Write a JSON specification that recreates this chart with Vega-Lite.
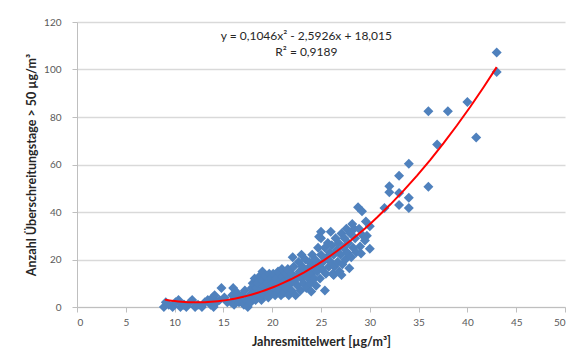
{
  "$schema": "https://vega.github.io/schema/vega-lite/v6.json",
  "width": 488,
  "height": 285,
  "autosize": {"type": "none"},
  "padding": {"left": 77, "top": 22, "right": 12, "bottom": 55},
  "background": "white",
  "config": {
    "view": {"stroke": null},
    "font": "Lato",
    "axis": {
      "labelFont": "Lato", "labelFontSize": 10, "labelColor": "#595959",
      "titleFont": "Lato", "titleFontSize": 12.5, "titleFontWeight": "bold", "titleColor": "#262626",
      "domainColor": "#BFBFBF", "tickColor": "#BFBFBF", "tickSize": 5,
      "gridColor": "#D9D9D9", "gridWidth": 1.5
    }
  },
  "datasets": {
    "pts": [
      {"x":8.9,"y":0},{"x":9.1,"y":2},{"x":9.4,"y":1},{"x":9.8,"y":0},{"x":10.1,"y":2},{"x":10.4,"y":3},{"x":10.6,"y":0},{"x":10.9,"y":1},{"x":11.2,"y":0},{"x":11.6,"y":2},{"x":11.8,"y":3},{"x":12.1,"y":0},{"x":12.4,"y":1},{"x":12.8,"y":0},{"x":13.1,"y":2},{"x":13.4,"y":3},{"x":13.7,"y":1},{"x":13.9,"y":4},{"x":14.1,"y":5},{"x":14.3,"y":2},{"x":14.6,"y":3},{"x":14.8,"y":8},{"x":15.1,"y":4},{"x":15.4,"y":2},{"x":14.0,"y":0},{"x":11.0,"y":1},
      {"x":15.8,"y":2},{"x":15.9,"y":5},{"x":16.0,"y":8},{"x":16.1,"y":1},{"x":16.3,"y":4},{"x":16.4,"y":6},{"x":16.6,"y":2},{"x":16.8,"y":3},{"x":16.9,"y":5},{"x":17.1,"y":1},{"x":17.2,"y":7},{"x":17.4,"y":3},{"x":17.5,"y":0},{"x":17.7,"y":5},{"x":17.8,"y":2},{"x":17.9,"y":8},{"x":18.0,"y":10},{"x":18.0,"y":4},
      {"x":18.1,"y":6},{"x":18.2,"y":12},{"x":18.3,"y":3},{"x":18.4,"y":8},{"x":18.5,"y":10},{"x":18.6,"y":5},{"x":18.7,"y":13},{"x":18.8,"y":7},{"x":18.9,"y":3},{"x":19.0,"y":11},{"x":19.0,"y":15},{"x":19.1,"y":9},{"x":19.2,"y":5},{"x":19.3,"y":13},{"x":19.4,"y":7},{"x":19.5,"y":10},{"x":19.6,"y":4},{"x":19.7,"y":14},{"x":19.8,"y":8},{"x":19.9,"y":12},{"x":20.0,"y":6},{"x":20.0,"y":10},
      {"x":20.1,"y":14},{"x":20.2,"y":8},{"x":20.3,"y":5},{"x":20.4,"y":12},{"x":20.5,"y":9},{"x":20.6,"y":15},{"x":20.7,"y":7},{"x":20.8,"y":11},{"x":20.9,"y":5},{"x":21.0,"y":13},{"x":21.0,"y":16},{"x":21.1,"y":9},{"x":21.2,"y":6},{"x":21.3,"y":11},{"x":21.4,"y":14},{"x":21.5,"y":8},{"x":21.6,"y":16},{"x":21.7,"y":5},{"x":21.8,"y":12},{"x":21.9,"y":10},{"x":22.0,"y":7},{"x":22.0,"y":14},
      {"x":22.1,"y":21},{"x":22.2,"y":17},{"x":22.3,"y":11},{"x":22.4,"y":5},{"x":22.5,"y":13},{"x":22.6,"y":9},{"x":22.7,"y":19},{"x":22.8,"y":15},{"x":22.9,"y":7},{"x":23.0,"y":12},{"x":23.0,"y":22},{"x":23.1,"y":17},{"x":23.2,"y":10},{"x":23.3,"y":14},{"x":23.4,"y":20},{"x":23.5,"y":8},{"x":23.6,"y":16},{"x":23.7,"y":12},{"x":23.8,"y":19},{"x":23.9,"y":10},{"x":24.0,"y":6.5},{"x":24.0,"y":14},{"x":24.1,"y":22},{"x":24.2,"y":17},
      {"x":24.3,"y":12},{"x":24.4,"y":20},{"x":24.5,"y":9},{"x":24.6,"y":15},{"x":24.7,"y":25},{"x":24.8,"y":18},{"x":24.9,"y":12},{"x":25.0,"y":22},{"x":25.0,"y":29},{"x":25.0,"y":31.7},{"x":25.1,"y":16},{"x":25.2,"y":19},{"x":25.4,"y":7},{"x":25.4,"y":25},{"x":25.5,"y":14},{"x":25.6,"y":21},{"x":25.7,"y":27},{"x":25.8,"y":17},{"x":25.9,"y":23},{"x":26.0,"y":31.7},{"x":26.0,"y":19},{"x":26.1,"y":26},{"x":24.8,"y":29.6},
      {"x":26.2,"y":14},{"x":26.3,"y":22},{"x":26.3,"y":13.5},{"x":26.4,"y":17},{"x":26.5,"y":29},{"x":26.6,"y":24},{"x":26.7,"y":19},{"x":26.8,"y":27},{"x":26.9,"y":15},{"x":27.0,"y":22},{"x":27.1,"y":31},{"x":27.1,"y":13.5},{"x":27.2,"y":18},{"x":27.3,"y":25},{"x":27.4,"y":29},{"x":27.5,"y":20},{"x":27.6,"y":33},{"x":27.7,"y":23},{"x":27.8,"y":27},{"x":27.9,"y":16.3},{"x":28.0,"y":31},{"x":28.1,"y":21},{"x":28.2,"y":35},{"x":28.3,"y":25},{"x":28.4,"y":33},{"x":28.5,"y":29},{"x":28.6,"y":23},
      {"x":28.8,"y":42},{"x":29.2,"y":40.3},{"x":29.6,"y":36},{"x":30.0,"y":34},{"x":29.7,"y":30},{"x":30.0,"y":24.5},{"x":29.0,"y":25.5},{"x":29.1,"y":22.5},{"x":29.3,"y":30},{"x":28.9,"y":33},{"x":29.5,"y":28},
      {"x":31.5,"y":41.7},{"x":32,"y":50.8},{"x":32,"y":48.3},{"x":33,"y":55.3},{"x":33,"y":48},{"x":33,"y":43},{"x":34,"y":60.3},{"x":34,"y":46},{"x":34,"y":41.7},{"x":36,"y":82.4},{"x":36,"y":50.6},{"x":36.9,"y":68.4},{"x":38,"y":82.4},{"x":40,"y":86.3},{"x":40.9,"y":71.4},{"x":43,"y":107.2},{"x":43,"y":99}
    ],
    "labels": [
      {"x":23.5,"y":114.2,"t":"y = 0,1046x² - 2,5926x + 18,015"},
      {"x":23.5,"y":107.2,"t":"R² = 0,9189"}
    ]
  },
  "layer": [
    {
      "data": {"name": "pts"},
      "mark": {"type": "point", "shape": "diamond", "filled": true, "color": "#4F81BD", "opacity": 1, "size": 100},
      "encoding": {
        "x": {"field": "x", "type": "quantitative",
              "scale": {"domain": [0, 50], "nice": false, "zero": true},
              "axis": {"values": [0,5,10,15,20,25,30,35,40,45,50], "grid": false, "title": "Jahresmittelwert [µg/m³]", "labelPadding": 5, "titlePadding": 8}},
        "y": {"field": "y", "type": "quantitative",
              "scale": {"domain": [0, 120], "nice": false},
              "axis": {"values": [0,20,40,60,80,100,120], "grid": true, "title": "Anzahl Überschreitungstage > 50 µg/m³", "labelPadding": 11, "titlePadding": 5}}
      }
    },
    {
      "data": {"name": "pts"},
      "transform": [{"regression": "y", "on": "x", "method": "poly", "order": 2, "extent": [9, 43]}],
      "mark": {"type": "line", "color": "#FF0000", "strokeWidth": 2},
      "encoding": {
        "x": {"field": "x", "type": "quantitative"},
        "y": {"field": "y", "type": "quantitative"}
      }
    },
    {
      "data": {"name": "labels"},
      "mark": {"type": "text", "font": "Lato", "fontSize": 12, "color": "#262626", "align": "center", "baseline": "middle"},
      "encoding": {
        "x": {"field": "x", "type": "quantitative"},
        "y": {"field": "y", "type": "quantitative"},
        "text": {"field": "t"}
      }
    }
  ]
}
